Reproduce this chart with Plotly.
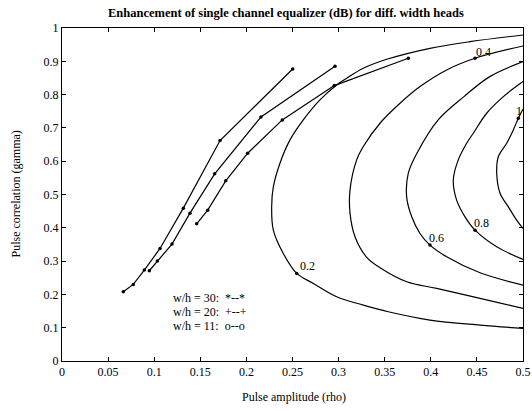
import plotly.graph_objects as go

# ---- data ----
# equalizer operating curves for three head widths
wh30_x = [0.0665, 0.0773, 0.0893, 0.1063, 0.1316, 0.1714, 0.2502]
wh30_y = [0.208, 0.230, 0.273, 0.338, 0.459, 0.662, 0.877]
wh20_x = [0.0947, 0.1034, 0.1193, 0.1388, 0.1656, 0.2158, 0.2961]
wh20_y = [0.271, 0.300, 0.351, 0.444, 0.562, 0.733, 0.885]
wh11_x = [0.1461, 0.1580, 0.1776, 0.2014, 0.2389, 0.2953, 0.3756]
wh11_y = [0.412, 0.453, 0.541, 0.624, 0.724, 0.827, 0.909]

# contour lines of enhancement (dB)
c02_x = [0.5, 0.4425, 0.3991, 0.3522, 0.3268, 0.3088, 0.2979, 0.2798, 0.2617, 0.2473,
         0.2364, 0.2292, 0.2274, 0.2292, 0.2400, 0.2546, 0.2726, 0.2979, 0.3268, 0.3539,
         0.3991, 0.4534, 0.5]
c02_y = [0.979, 0.959, 0.939, 0.906, 0.879, 0.849, 0.829, 0.784, 0.724, 0.664,
         0.594, 0.523, 0.463, 0.393, 0.323, 0.263, 0.233, 0.193, 0.168, 0.148,
         0.123, 0.108, 0.098]
c04_x = [0.5, 0.4479, 0.4172, 0.3883, 0.3666, 0.3449, 0.3268, 0.3196, 0.3124, 0.3124,
         0.3178, 0.3300, 0.3450, 0.3739, 0.4064, 0.4534, 0.5]
c04_y = [0.946, 0.909, 0.874, 0.824, 0.774, 0.714, 0.644, 0.604, 0.514, 0.444,
         0.373, 0.313, 0.280, 0.238, 0.218, 0.188, 0.158]
c06_x = [0.5, 0.4640, 0.4360, 0.4080, 0.3850, 0.3756, 0.3738, 0.3793, 0.3883, 0.3991,
         0.4172, 0.4534, 0.5]
c06_y = [0.899, 0.854, 0.794, 0.724, 0.624, 0.564, 0.493, 0.433, 0.383, 0.348,
         0.313, 0.265, 0.228]
c08_x = [0.5, 0.4787, 0.4606, 0.4461, 0.4389, 0.4298, 0.4244, 0.4280, 0.4371, 0.4480,
         0.4715, 0.5]
c08_y = [0.839, 0.794, 0.744, 0.684, 0.654, 0.604, 0.544, 0.483, 0.433, 0.393,
         0.343, 0.305]
c10_x = [0.5, 0.4949, 0.4895, 0.4823, 0.4733, 0.4715, 0.4751, 0.4841, 0.4931, 0.5]
c10_y = [0.757, 0.729, 0.694, 0.654, 0.614, 0.564, 0.504, 0.463, 0.423, 0.398]

# contour label markers and texts (text positions = text centres)
lab_text = ["0.2", "0.4", "0.6", "0.8", "1"]
lab_pt_x = [0.2546, 0.4479, 0.3991, 0.4480, 0.4949]
lab_pt_y = [0.263, 0.909, 0.348, 0.393, 0.729]
lab_tx_x = [0.2668, 0.4570, 0.4064, 0.4552, 0.4960]
lab_tx_y = [0.284, 0.929, 0.368, 0.413, 0.752]

legend_lines = ["w/h = 30:  *--*", "w/h = 20:  +--+", "w/h = 11:  o--o"]

FONT = "Liberation Serif"

fig = go.Figure()

for cx, cy in [(c02_x, c02_y), (c04_x, c04_y), (c06_x, c06_y), (c08_x, c08_y), (c10_x, c10_y)]:
    fig.add_trace(go.Scatter(x=cx, y=cy, mode="lines", line_shape="spline",
                             line=dict(color="black", width=1.2), showlegend=False,
                             hoverinfo="skip"))

fig.add_trace(go.Scatter(x=lab_pt_x, y=lab_pt_y, mode="markers",
                         marker=dict(color="black", size=3.5), showlegend=False))

for sx, sy in [(wh30_x, wh30_y), (wh20_x, wh20_y), (wh11_x, wh11_y)]:
    fig.add_trace(go.Scatter(x=sx, y=sy, mode="lines+markers",
                             line=dict(color="black", width=1.2),
                             marker=dict(color="black", size=3.5), showlegend=False))

annotations = []
for t, x, y in zip(lab_text, lab_tx_x, lab_tx_y):
    annotations.append(dict(x=x, y=y, xref="x", yref="y", text=t, showarrow=False,
                            font=dict(family=FONT, size=12, color="black"),
                            xanchor="center", yanchor="middle"))

for i, t in enumerate(legend_lines):
    annotations.append(dict(x=(171 - 62) / 461, y=(361 - (298 + 14 * i)) / 333,
                            xref="paper", yref="paper", text=t, showarrow=False,
                            font=dict(family=FONT, size=12, color="black"),
                            xanchor="left", yanchor="middle"))

annotations.append(dict(x=(286 - 62) / 461, y=1.0, xref="paper", yref="paper", yshift=15,
                        text="<b>Enhancement of single channel equalizer (dB) for diff. width heads</b>",
                        showarrow=False, font=dict(family=FONT, size=12.5, color="black"),
                        xanchor="center", yanchor="middle"))
annotations.append(dict(x=(294 - 62) / 461, y=0, xref="paper", yref="paper", yshift=-36,
                        text="Pulse amplitude (rho)", showarrow=False,
                        font=dict(family=FONT, size=12, color="black"),
                        xanchor="center", yanchor="middle"))
annotations.append(dict(x=0, y=0.5, xref="paper", yref="paper", xshift=-47,
                        text="Pulse correlation (gamma)", showarrow=False, textangle=-90,
                        font=dict(family=FONT, size=12, color="black"),
                        xanchor="center", yanchor="middle"))

fig.update_layout(
    width=532, height=411,
    margin=dict(l=62, r=9, t=28, b=50, autoexpand=False),
    paper_bgcolor="white", plot_bgcolor="white",
    font=dict(family=FONT, size=11, color="black"),
    annotations=annotations,
    showlegend=False,
)
fig.update_xaxes(range=[0, 0.5], dtick=0.05, tick0=0, showgrid=False, zeroline=False,
                 automargin=False,
                 showline=True, linecolor="black", linewidth=1, mirror="ticks",
                 ticks="inside", ticklen=4, tickcolor="black",
                 tickfont=dict(family=FONT, size=12, color="black"))
fig.update_yaxes(range=[0, 1], dtick=0.1, tick0=0, showgrid=False, zeroline=False,
                 automargin=False,
                 showline=True, linecolor="black", linewidth=1, mirror="ticks",
                 ticks="inside", ticklen=4, tickcolor="black",
                 tickfont=dict(family=FONT, size=12, color="black"))

fig.write_html("out.html", config={"displayModeBar": False},
               post_script="document.body.style.margin='0px';document.body.style.overflow='hidden';")
